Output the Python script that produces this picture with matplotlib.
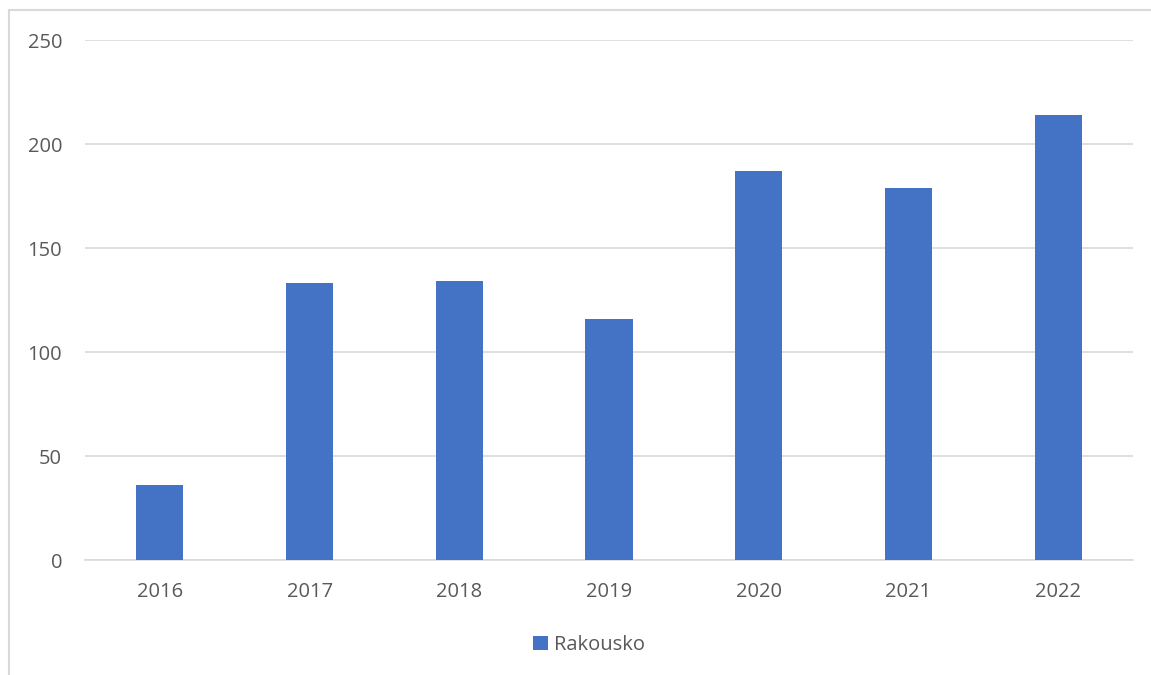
import matplotlib.pyplot as plt
from matplotlib.patches import Rectangle

# Data
years = ['2016', '2017', '2018', '2019', '2020', '2021', '2022']
values = [36, 133, 134, 116, 187, 179, 214]
series_name = 'Rakousko'

bar_color = '#4472C4'
text_color = '#595959'
grid_color = '#D9D9D9'

plt.rcParams['font.family'] = ['Open Sans', 'DejaVu Sans']

fig = plt.figure(figsize=(11.51, 6.75), dpi=100)
ax = fig.add_axes([85 / 1151, 1 - 560 / 675, 1048 / 1151, 520 / 675])

x = range(len(years))
ax.bar(x, values, width=0.315, color=bar_color, label=series_name, zorder=3)

ax.set_xlim(-0.5, len(years) - 0.5)
ax.set_ylim(0, 250)
ax.set_yticks(range(0, 251, 50))
ax.set_xticks(list(x))
ax.set_xticklabels(years)

ax.grid(axis='y', color=grid_color, linewidth=1.2, zorder=0)
for side in ['top', 'right', 'left']:
    ax.spines[side].set_visible(False)
ax.spines['bottom'].set_color(grid_color)
ax.spines['bottom'].set_linewidth(1.2)
ax.tick_params(axis='both', length=0, labelsize=14.5, labelcolor=text_color)
ax.tick_params(axis='x', pad=16)
ax.tick_params(axis='y', pad=16.5)

# outer chart border
fig.patches.append(Rectangle((9 / 1151, -0.01), 1.1, 1 - 10 / 675 + 0.01,
                             transform=fig.transFigure, fill=False,
                             edgecolor=grid_color, linewidth=1.5))

leg = fig.legend(loc='center', bbox_to_anchor=(589 / 1151, 1 - 645 / 675),
                 frameon=False, fontsize=14.5, handlelength=0.75, handleheight=0.75,
                 handletextpad=0.3)
for t in leg.get_texts():
    t.set_color(text_color)

fig.savefig('out.png', dpi=100)
